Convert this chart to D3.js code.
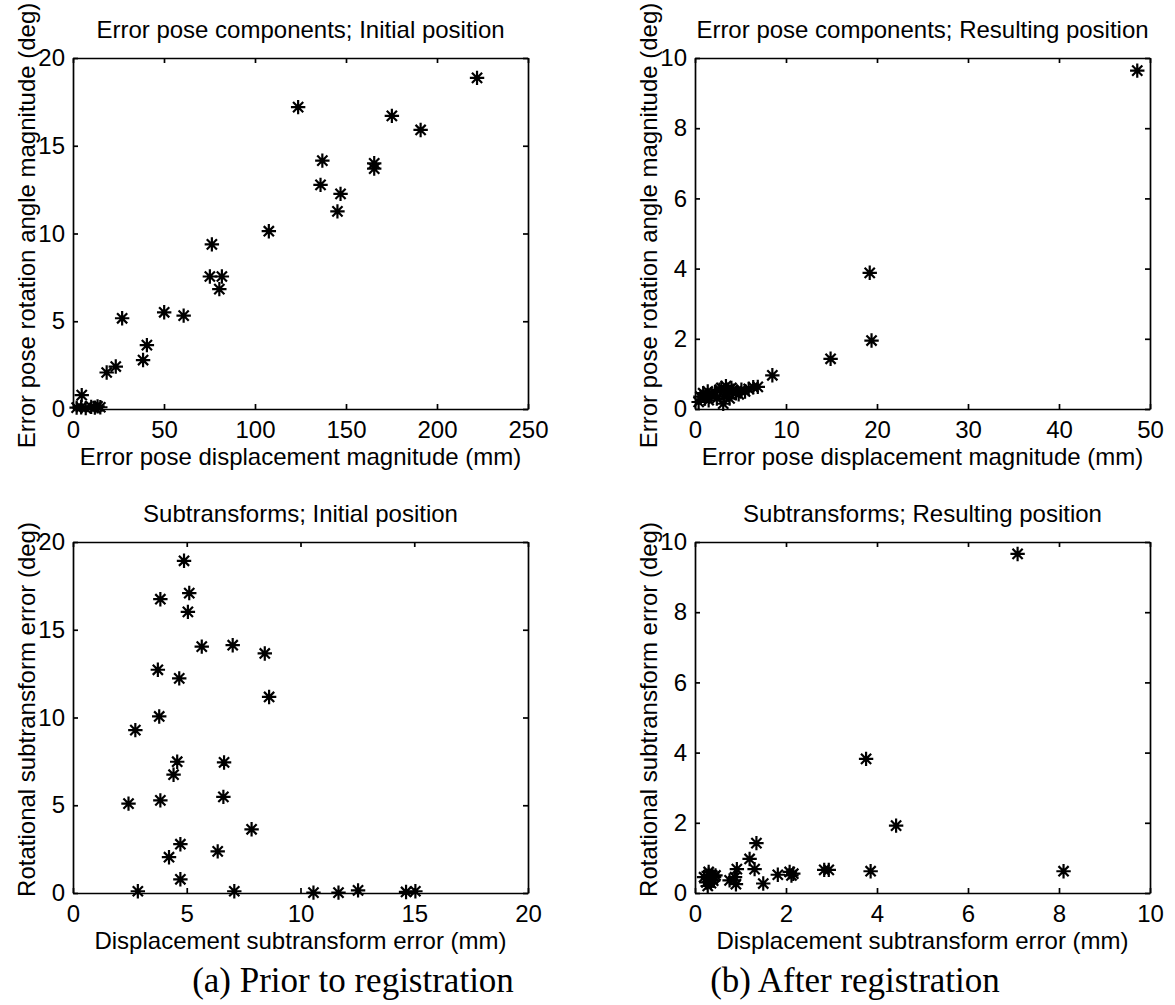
<!DOCTYPE html>
<html>
<head>
<meta charset="utf-8">
<script src="https://cdn.jsdelivr.net/npm/d3@7"></script>
<style>
  body { margin: 0; background: #fff; }
  svg text { font-family: "Liberation Sans", Arial, sans-serif; fill: #000; }
</style>
</head>
<body>
<script>
// Panel (a) top: error pose components, initial position
var initPoseDisp = [222, 123.7, 175.2, 191, 137, 136, 165.5, 165.5, 147, 145.3,
  107.6, 76.3, 75.2, 81.8, 80.4, 50.1, 60.8, 27, 40.6, 38.5,
  23.5, 18.5, 4.8, 2, 4.5, 7, 10, 12, 13.5, 15];
var initPoseRot = [18.87, 17.2, 16.7, 15.9, 14.15, 12.77, 14.0, 13.7, 12.26, 11.26,
  10.13, 9.38, 7.55, 7.55, 6.83, 5.51, 5.32, 5.17, 3.64, 2.79,
  2.42, 2.08, 0.79, 0.08, 0.1, 0.05, 0.12, 0.08, 0.15, 0.1];

// Panel (b) top: error pose components, resulting position
var resPoseDisp = [48.6, 19.2, 19.4, 14.9, 8.5,
  0.4, 0.6, 0.9, 1.1, 1.4, 1.5, 1.8, 2.2, 2.4, 2.7, 2.9, 3.1, 3.2,
  3.4, 3.6, 3.8, 4.0, 4.2, 4.5, 4.8, 5.1, 5.5, 5.9, 6.4, 6.9];
var resPoseRot = [9.64, 3.88, 1.95, 1.43, 0.96,
  0.2, 0.35, 0.45, 0.3, 0.5, 0.25, 0.4, 0.47, 0.3, 0.55, 0.6, 0.15, 0.35,
  0.65, 0.5, 0.3, 0.6, 0.52, 0.45, 0.42, 0.55, 0.5, 0.57, 0.62, 0.63];

// Panel (a) bottom: subtransforms, initial position
var initSubDisp = [4.88, 5.11, 3.84, 5.05, 5.66, 7.02, 8.43, 3.73, 4.67, 8.62,
  3.79, 2.74, 4.58, 6.64, 4.42, 6.61, 3.84, 2.44, 7.85, 4.72,
  6.36, 4.22, 4.72, 2.85, 7.09, 10.57, 11.67, 12.53, 14.64, 15.05];
var initSubRot = [18.93, 17.09, 16.74, 16.02, 14.04, 14.12, 13.65, 12.72, 12.23, 11.17,
  10.06, 9.28, 7.48, 7.44, 6.74, 5.48, 5.28, 5.09, 3.63, 2.78,
  2.37, 2.04, 0.78, 0.1, 0.1, 0.02, 0.02, 0.15, 0.06, 0.1];

// Panel (b) bottom: subtransforms, resulting position
var resSubDisp = [7.09, 3.76, 4.42, 1.35, 1.2, 1.31, 1.5, 3.86, 8.1, 2.84,
  2.94, 1.82, 2.08, 2.12, 0.92, 0.88, 0.9, 0.76, 0.2, 0.25,
  0.3, 0.33, 0.38, 0.42, 0.28, 0.35, 0.4, 0.45, 0.3, 2.16];
var resSubRot = [9.66, 3.82, 1.92, 1.42, 0.97, 0.68, 0.27, 0.62, 0.62, 0.66,
  0.66, 0.52, 0.6, 0.5, 0.68, 0.45, 0.25, 0.36, 0.45, 0.3,
  0.52, 0.38, 0.5, 0.45, 0.2, 0.28, 0.35, 0.5, 0.6, 0.55];

// tick values
var ticksPoseInitX = [0, 50, 100, 150, 200, 250];
var ticksPoseInitY = [0, 5, 10, 15, 20];
var ticksPoseResX = [0, 10, 20, 30, 40, 50];
var ticksPoseResY = [0, 2, 4, 6, 8, 10];
var ticksSubInitX = [0, 5, 10, 15, 20];
var ticksSubInitY = [0, 5, 10, 15, 20];
var ticksSubResX = [0, 2, 4, 6, 8, 10];
var ticksSubResY = [0, 2, 4, 6, 8, 10];

var svgWidth = 1175;
var svgHeight = 1005;

// plot box positions (taken from the figure)
var colLeft = [73, 695];
var rowTop = [58, 542];
var plotW = 455;
var plotH = 351;

var svg = d3.select("body")
  .append("svg")
  .attr("width", svgWidth)
  .attr("height", svgHeight);

var panels = [
  {col: 0, row: 0, title: "Error pose components; Initial position",
   xLabel: "Error pose displacement magnitude (mm)", yLabel: "Error pose rotation angle magnitude (deg)",
   xMax: 250, yMax: 20, xTicks: ticksPoseInitX, yTicks: ticksPoseInitY, xs: initPoseDisp, ys: initPoseRot},
  {col: 1, row: 0, title: "Error pose components; Resulting position",
   xLabel: "Error pose displacement magnitude (mm)", yLabel: "Error pose rotation angle magnitude (deg)",
   xMax: 50, yMax: 10, xTicks: ticksPoseResX, yTicks: ticksPoseResY, xs: resPoseDisp, ys: resPoseRot},
  {col: 0, row: 1, title: "Subtransforms; Initial position",
   xLabel: "Displacement subtransform error (mm)", yLabel: "Rotational subtransform error (deg)",
   xMax: 20, yMax: 20, xTicks: ticksSubInitX, yTicks: ticksSubInitY, xs: initSubDisp, ys: initSubRot},
  {col: 1, row: 1, title: "Subtransforms; Resulting position",
   xLabel: "Displacement subtransform error (mm)", yLabel: "Rotational subtransform error (deg)",
   xMax: 10, yMax: 10, xTicks: ticksSubResX, yTicks: ticksSubResY, xs: resSubDisp, ys: resSubRot}
];

// matlab style '*' marker
function starPath(r) {
  var d = r * Math.SQRT1_2;
  return "M" + (-r) + ",0H" + r + "M0," + (-r) + "V" + r +
    "M" + (-d) + "," + (-d) + "L" + d + "," + d +
    "M" + (-d) + "," + d + "L" + d + "," + (-d);
}

function styleAxis(sel) {
  sel.attr("font-size", 24).attr("font-family", null);
  sel.selectAll(".domain, .tick line").attr("stroke", "#000").attr("stroke-width", 1.7);
}

panels.forEach(function(p) {
  var g = svg.append("g")
    .attr("transform", `translate(${colLeft[p.col]}, ${rowTop[p.row]})`);

  var x = d3.scaleLinear().domain([0, p.xMax]).range([0, plotW]);
  var y = d3.scaleLinear().domain([0, p.yMax]).range([plotH, 0]);

  // four sides of the box, ticks pointing inwards
  g.append("g")
    .attr("transform", `translate(0, ${plotH})`)
    .call(d3.axisBottom(x).tickValues(p.xTicks).tickSizeInner(-5).tickSizeOuter(0).tickPadding(12))
    .call(styleAxis);
  g.append("g")
    .call(d3.axisLeft(y).tickValues(p.yTicks).tickSizeInner(-5).tickSizeOuter(0).tickPadding(8))
    .call(styleAxis);
  g.append("g")
    .call(d3.axisTop(x).tickValues(p.xTicks).tickSizeInner(-5).tickSizeOuter(0).tickFormat(""))
    .call(styleAxis);
  g.append("g")
    .attr("transform", `translate(${plotW}, 0)`)
    .call(d3.axisRight(y).tickValues(p.yTicks).tickSizeInner(-5).tickSizeOuter(0).tickFormat(""))
    .call(styleAxis);

  // points
  g.selectAll(".star")
    .data(d3.range(p.xs.length))
    .enter().append("path")
    .attr("class", "star")
    .attr("d", starPath(7.2))
    .attr("transform", i => `translate(${x(p.xs[i])}, ${y(p.ys[i])})`)
    .attr("stroke", "#000")
    .attr("stroke-width", 2.2)
    .attr("fill", "none");

  g.append("text")
    .attr("x", plotW / 2)
    .attr("y", -20)
    .attr("text-anchor", "middle")
    .attr("font-size", 24)
    .text(p.title);

  g.append("text")
    .attr("x", plotW / 2)
    .attr("y", plotH + 56)
    .attr("text-anchor", "middle")
    .attr("font-size", 24)
    .text(p.xLabel);

  g.append("text")
    .attr("transform", `translate(-38, ${plotH / 2 - 8}) rotate(-90)`)
    .attr("text-anchor", "middle")
    .attr("font-size", 24)
    .text(p.yLabel);
});

// sub-figure captions
var captions = ["(a) Prior to registration", "(b) After registration"];
var captionX = [353, 855];
svg.selectAll(".caption")
  .data(captions)
  .enter().append("text")
  .attr("class", "caption")
  .attr("x", (d, i) => captionX[i])
  .attr("y", 992)
  .attr("text-anchor", "middle")
  .style("font-family", "'Liberation Serif', 'Times New Roman', serif")
  .attr("font-size", 35)
  .text(d => d);
</script>
</body>
</html>
